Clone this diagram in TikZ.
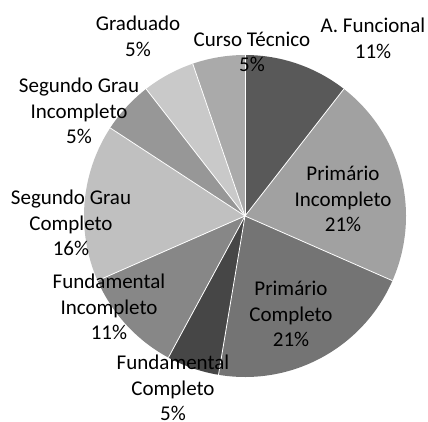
\documentclass[tikz,border=0pt]{standalone}
\usepackage{fontspec}
\setmainfont{Carlito}
\definecolor{cAF}{HTML}{595959}
\definecolor{cPI}{HTML}{A1A1A1}
\definecolor{cPC}{HTML}{747474}
\definecolor{cFC}{HTML}{464646}
\definecolor{cFI}{HTML}{878787}
\definecolor{cSGC}{HTML}{C0C0C0}
\definecolor{cSGI}{HTML}{979797}
\definecolor{cGR}{HTML}{C9C9C9}
\definecolor{cCT}{HTML}{AAAAAA}
\begin{document}
\begin{tikzpicture}[x=1pt,y=1pt,
  lbl/.style={align=center,font=\fontsize{21}{25.7}\selectfont,text=black,inner sep=0pt},
  sepline/.style={draw=white,line width=0.8pt}]
\useasboundingbox (0,0) rectangle (428,421);
\coordinate (c) at (245,205);
\foreach \a/\b/\col in {0/2/cAF,2/6/cPI,6/10/cPC,10/11/cFC,11/13/cFI,13/16/cSGC,16/17/cSGI,17/18/cGR,18/19/cCT}{
  \fill[\col] (c) -- ++({90-\a*360/19}:161) arc[start angle={90-\a*360/19}, end angle={90-\b*360/19}, radius=161] -- cycle;
}
\foreach \a in {0,2,6,10,11,13,16,17,18}{
  \draw[sepline] (c) -- ++({90-\a*360/19}:161);
}
\node[lbl] (gr) at (138,385) {Graduado\\5\%};
\node[lbl] (ct) at (252,369) {Curso Técnico\\5\%};
\node[lbl] (af) at (373,383) {A. Funcional\\11\%};
\node[lbl] (sgi) at (79,310) {Segundo Grau\\Incompleto\\5\%};
\node[lbl] (pi) at (343,222) {Primário\\Incompleto\\21\%};
\node[lbl] (sgc) at (71,198) {Segundo Grau\\Completo\\16\%};
\node[lbl] (fi) at (109,114) {Fundamental\\Incompleto\\11\%};
\node[lbl] (pc) at (291,107) {Primário\\Completo\\21\%};
\node[lbl] (fc) at (173,33) {Fundamental\\Completo\\5\%};
\end{tikzpicture}
\end{document}
